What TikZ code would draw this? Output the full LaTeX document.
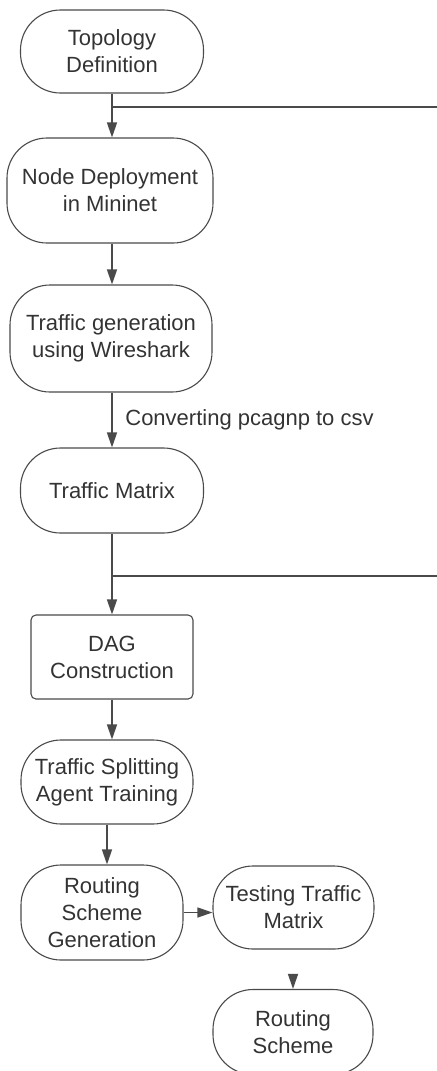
\documentclass[tikz,border=0pt]{standalone}
\usepackage{fontspec}
\setmainfont{Liberation Sans}
\usetikzlibrary{arrows.meta,calc,positioning}

\definecolor{lineGray}{HTML}{4A4A4A}
\definecolor{textGray}{HTML}{333333}

\begin{document}
\begin{tikzpicture}[x=0.5pt,y=-0.5pt,>={Triangle[width=5pt,length=7.5pt]},
    font=\fontsize{11}{13.5}\selectfont,text=textGray,
    stage/.style={draw=lineGray,line width=0.55pt,rounded corners=20pt,align=center,inner sep=0pt},
    stagebox/.style={draw=lineGray,line width=0.55pt,rounded corners=2.5pt,align=center,inner sep=0pt},
    flow/.style={->,draw=lineGray,line width=0.7pt},
    branch/.style={-,draw=lineGray,line width=0.7pt}]
    \clip (0,0) rectangle (437,1071);

    \node[stage,minimum width=91.5pt,minimum height=41.5pt] (topologyNode) at (112,51.5) {Topology\\Definition};
    \node[stage,minimum width=103pt,minimum height=52.5pt] (deploymentNode) at (110,190.5) {Node Deployment\\in Mininet};
    \node[stage,minimum width=101pt,minimum height=53.5pt] (generationNode) at (111,338.5) {Traffic generation\\using Wireshark};
    \node[stage,minimum width=91.5pt,minimum height=42.5pt] (matrixNode) at (112,490.5) {Traffic Matrix};
    \node[stagebox,minimum width=81pt,minimum height=42pt] (dagNode) at (112,657) {DAG\\Construction};
    \node[stage,minimum width=86pt,minimum height=42pt] (splittingNode) at (107,782) {Traffic Splitting\\Agent Training};
    \node[stage,minimum width=81pt,minimum height=47.5pt] (routingGenNode) at (102,912.5) {Routing\\Scheme\\Generation};
    \node[stage,minimum width=80.5pt,minimum height=41.5pt] (testingNode) at (293.5,907.5) {Testing Traffic\\Matrix};
    \node[stage,minimum width=80pt,minimum height=42.5pt] (schemeNode) at (293,1032) {Routing\\Scheme};

    \coordinate (topologyExit) at (437,107);
    \coordinate (matrixExit) at (437,576);

    \draw[flow] (topologyNode.south) -- (topologyNode.south |- deploymentNode.north);
    \draw[branch] (topologyNode.south |- topologyExit) -- (topologyExit);
    \draw[flow] (topologyNode.south |- deploymentNode.south) -- (topologyNode.south |- generationNode.north);
    \draw[flow] (topologyNode.south |- generationNode.south) -- (topologyNode.south |- matrixNode.north)
        node[midway,right=3pt]{Converting pcagnp to csv};
    \draw[flow] (matrixNode.south) -- (dagNode.north);
    \draw[branch] (matrixNode.south |- matrixExit) -- (matrixExit);
    \draw[flow] (dagNode.south |- dagNode.south) -- (dagNode.south |- splittingNode.north);
    \draw[flow] (splittingNode.south) -- (splittingNode.south |- routingGenNode.north);
    \draw[flow] (routingGenNode.east) -- (testingNode.west |- routingGenNode.east);
    \draw[flow,shorten <=12pt] (testingNode.south -| schemeNode.north) -- (schemeNode.north);

\end{tikzpicture}
\end{document}
